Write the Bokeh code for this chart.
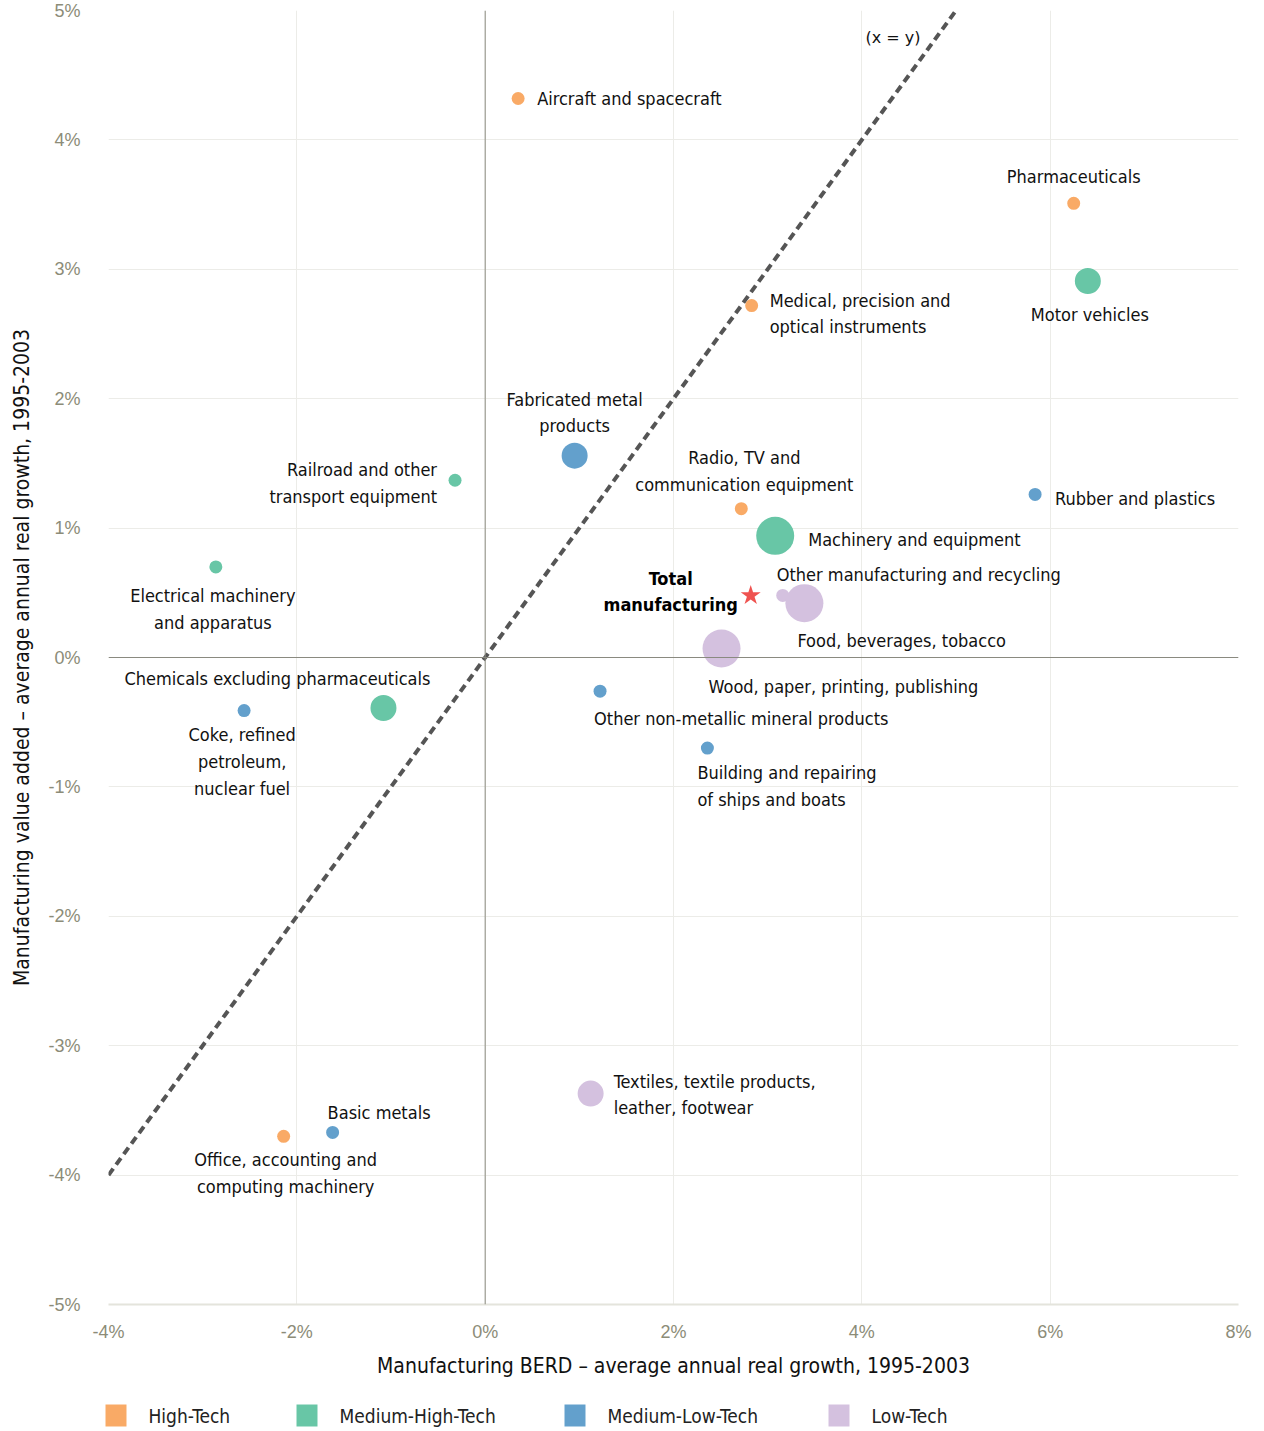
from bokeh.plotting import figure
from bokeh.layouts import column
from bokeh.models import (ColumnDataSource, Span, FixedTicker, PrintfTickFormatter)
from bokeh.core.properties import value
from bokeh.embed import file_html
from bokeh.resources import INLINE

# ---------------- data ----------------
categories = ["High-Tech", "Medium-High-Tech", "Medium-Low-Tech", "Low-Tech"]
colors = ["#F9AA66", "#68C6A6", "#63A0CC", "#D4C1DF"]

industries = [
    "Aircraft and spacecraft", "Pharmaceuticals",
    "Medical, precision and\noptical instruments",
    "Radio, TV and\ncommunication equipment",
    "Office, accounting and\ncomputing machinery",
    "Motor vehicles", "Railroad and other\ntransport equipment",
    "Machinery and equipment", "Electrical machinery\nand apparatus",
    "Chemicals excluding pharmaceuticals",
    "Fabricated metal\nproducts", "Rubber and plastics",
    "Coke, refined\npetroleum,\nnuclear fuel",
    "Other non-metallic mineral products",
    "Building and repairing\nof ships and boats", "Basic metals",
    "Other manufacturing and recycling", "Food, beverages, tobacco",
    "Wood, paper, printing, publishing",
    "Textiles, textile products,\nleather, footwear",
]
industry_cat = [0, 0, 0, 0, 0,
                1, 1, 1, 1, 1,
                2, 2, 2, 2, 2, 2,
                3, 3, 3, 3]
berd_growth = [0.35, 6.25, 2.83, 2.72, -2.14,
               6.40, -0.32, 3.08, -2.86, -1.08,
               0.95, 5.84, -2.56, 1.22, 2.36, -1.62,
               3.16, 3.39, 2.51, 1.12]
va_growth = [4.32, 3.51, 2.72, 1.15, -3.70,
             2.91, 1.37, 0.94, 0.70, -0.39,
             1.56, 1.26, -0.41, -0.26, -0.70, -3.67,
             0.48, 0.42, 0.07, -3.37]
bubble_weight = [1, 1, 1, 1, 1,
                 2, 1, 3, 1, 2,
                 2, 1, 1, 1, 1, 1,
                 1, 3, 3, 2]

total_label = "Total\nmanufacturing"
total_berd = [2.82]
total_va = [0.48]

x_ticks = [-4, -2, 0, 2, 4, 6, 8]
y_ticks = [-5, -4, -3, -2, -1, 0, 1, 2, 3, 4, 5]
x_title = "Manufacturing BERD \u2013 average annual real growth, 1995-2003"
y_title = "Manufacturing value added \u2013 average annual real growth, 1995-2003"

# ---------------- layout / style ----------------
LABEL_FONT = "DejaVu Sans Condensed"
TICK_FONT = "Liberation Sans"
FS = "18px"
LH = 1.27
diam = {1: 13, 2: 26, 3: 38}
# label placement: (dx, dy in screen px, align)
label_layout = [
    (19, 0, "left"), (0, -27, "center"), (18, 8, "left"), (3, -38, "center"),
    (2, 37, "center"),
    (2, 34, "center"), (-18, 3, "right"), (33, 4, "left"), (-3, 42, "center"),
    (-106, -29, "center"),
    (0, -43, "center"), (20, 4, "left"), (-2, 51, "center"), (-6, 27, "left"),
    (-10, 38, "left"), (-5, -20, "left"),
    (-6, -21, "left"), (-7, 37, "left"), (-13, 38, "left"), (23, 1, "left"),
]
# legend strip (screen-pixel layout of the key)
BL, BR, W = 108, 18, 1256
legend_x = [105, 296, 564, 828]
LEG_H = 41
LEG_Y = 16

p = figure(width=W, height=1390, x_range=(-4, 8), y_range=(-5, 5),
           output_backend="svg", toolbar_location=None,
           min_border_left=BL, min_border_right=BR, min_border_top=10,
           min_border_bottom=86)
p.outline_line_color = None
p.background_fill_color = "white"

p.xgrid.grid_line_color = "#ECECE8"
p.ygrid.grid_line_color = "#ECECE8"
p.xaxis.ticker = FixedTicker(ticks=x_ticks)
p.yaxis.ticker = FixedTicker(ticks=y_ticks)
p.xaxis.formatter = PrintfTickFormatter(format="%d%%")
p.yaxis.formatter = PrintfTickFormatter(format="%d%%")
for ax in (p.xaxis, p.yaxis):
    ax.major_tick_line_color = None
    ax.minor_tick_line_color = None
    ax.major_label_text_font = TICK_FONT
    ax.major_label_text_font_size = "18px"
    ax.major_label_text_color = "#8C8C78"
    ax.axis_label_text_font = LABEL_FONT
    ax.axis_label_text_font_size = "21px"
    ax.axis_label_text_font_style = "normal"
    ax.axis_label_text_color = "#111111"
p.xaxis.axis_line_color = "#E4E4DC"
p.xaxis.axis_line_width = 2
p.yaxis.axis_line_color = None
p.xaxis.major_label_standoff = 11
p.yaxis.major_label_standoff = 22
p.xaxis.axis_label = x_title
p.yaxis.axis_label = y_title
p.xaxis.axis_label_standoff = 9
p.yaxis.axis_label_standoff = 11

p.add_layout(Span(location=0, dimension="height", line_color="#8A8A80", line_width=1))
p.add_layout(Span(location=0, dimension="width", line_color="#8A8A80", line_width=1))

# x = y line
p.line(x=[-4, 5], y=[-4, 5], line_color="#555555", line_width=4, line_dash="8 5")
p.text(x=[4.33], y=[4.79], text=["(x = y)"], text_font=value("DejaVu Sans"),
       text_font_size="16px", text_align="center", text_baseline="middle",
       text_color="#111111")

# bubbles
for ci, cat in enumerate(categories):
    idx = [i for i, c in enumerate(industry_cat) if c == ci]
    src = ColumnDataSource(dict(
        x=[berd_growth[i] for i in idx], y=[va_growth[i] for i in idx],
        s=[diam[bubble_weight[i]] for i in idx]))
    p.scatter("x", "y", size="s", source=src, fill_color=colors[ci],
              line_color=None, fill_alpha=1.0)

# labels
for align in ("left", "center", "right"):
    idx = [i for i, l in enumerate(label_layout) if l[2] == align]
    src = ColumnDataSource(dict(
        x=[berd_growth[i] for i in idx], y=[va_growth[i] for i in idx],
        t=[industries[i] for i in idx],
        dx=[label_layout[i][0] for i in idx], dy=[label_layout[i][1] for i in idx]))
    p.text("x", "y", text="t", x_offset="dx", y_offset="dy", source=src,
           text_font=value(LABEL_FONT), text_font_size=FS,
           text_align=align, text_baseline="middle", text_color="#111111",
           text_line_height=LH)

# total manufacturing
p.scatter(total_berd, total_va, marker="star", size=21, fill_color="#EF5350",
          line_color=None)
p.text(total_berd, total_va, text=[total_label], x_offset=-80, y_offset=-4,
       text_font=value(LABEL_FONT), text_font_size=FS, text_font_style="bold",
       text_align="center", text_baseline="middle", text_color="#000000",
       text_line_height=LH)

# legend strip: its frame is aligned with the main frame, so use page-pixel units
lg = figure(width=W, height=LEG_H, x_range=(BL, W - BR), y_range=(0, LEG_H),
            output_backend="svg", toolbar_location=None,
            x_axis_location=None, y_axis_location=None,
            min_border_left=BL, min_border_right=BR, min_border_top=0,
            min_border_bottom=0)
lg.outline_line_color = None
lg.xgrid.visible = False
lg.ygrid.visible = False
lsrc = ColumnDataSource(dict(
    x=[lx + 10.5 for lx in legend_x], tx=[lx + 43 for lx in legend_x],
    y=[LEG_Y] * len(categories), c=colors, t=categories))
r = lg.rect("x", "y", width=21, height=22, width_units="screen",
            height_units="screen", fill_color="c", line_color=None, source=lsrc)
t = lg.text("tx", "y", text="t", source=lsrc, text_font=value(LABEL_FONT),
            text_font_size="19px", text_align="left", text_baseline="middle",
            text_color="#222222")
r.level = "overlay"
t.level = "overlay"

layout = column(p, lg, spacing=0)
open("out.html", "w").write(file_html(layout, INLINE))
